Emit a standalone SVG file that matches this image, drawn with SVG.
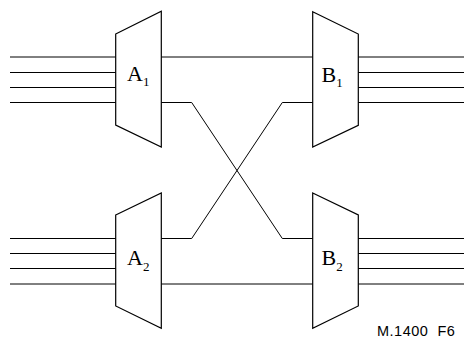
<svg xmlns="http://www.w3.org/2000/svg" width="467" height="338" viewBox="0 0 467 338">
<style>
.ln{fill:none;stroke:#000;stroke-width:1}
.gr{fill:none;stroke:#000;stroke-width:1}
.box{fill:#fff;stroke:#000;stroke-width:1.2}
.lbl{font-family:"Liberation Serif","Times New Roman",serif;font-size:22px;fill:#000}
.sub{font-size:13px}
.cap{font-family:"Liberation Sans",Arial,sans-serif;font-size:14.5px;letter-spacing:0.5px;white-space:pre;fill:#000}
</style>
<rect width="467" height="338" fill="#fff"/>
<g id="connectors">
<path class="gr" d="M10 57H116M10 72.5H116M10 87.5H116M10 102.5H116"/>
<path class="gr" d="M358 57H464M358 72.5H464M358 87.5H464M358 102.5H464"/>
<path class="gr" d="M10 238.5H116M10 253.5H116M10 268.5H116M10 284H116"/>
<path class="gr" d="M358 238.5H464M358 253.5H464M358 268.5H464M358 284H464"/>
<path class="ln" d="M161 57H313"/>
<path class="ln" d="M161 284H313"/>
<path class="ln" d="M161 102.5H191.7L282.3 238.5H313"/>
<path class="ln" d="M161 238.5H191.7L282.3 102.5H313"/>
</g>
<g id="A1">
<polygon class="box" points="115.7,34 161.3,11.3 161.3,147 115.7,125"/>
<text class="lbl" x="127" y="81">A<tspan class="sub" dy="5">1</tspan></text>
</g>
<g id="B1">
<polygon class="box" points="312.7,11.7 358.3,34 358.3,125.3 312.7,147"/>
<text class="lbl" x="321.5" y="81.5">B<tspan class="sub" dy="5">1</tspan></text>
</g>
<g id="A2">
<polygon class="box" points="115.7,215 161.3,193 161.3,328.3 115.7,306"/>
<text class="lbl" x="127" y="265">A<tspan class="sub" dy="6">2</tspan></text>
</g>
<g id="B2">
<polygon class="box" points="312.7,193 358.3,215 358.3,306 312.7,328.3"/>
<text class="lbl" x="321.5" y="265">B<tspan class="sub" dy="6">2</tspan></text>
</g>
<text class="cap" x="377" y="336" xml:space="preserve">M.1400  F6</text>
</svg>
